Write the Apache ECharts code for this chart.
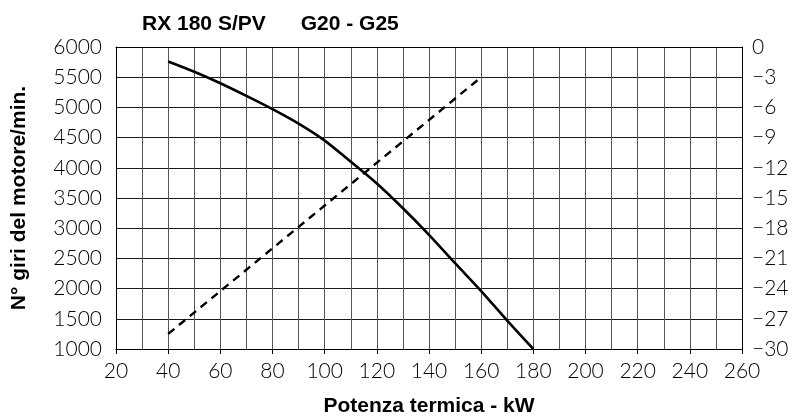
<!DOCTYPE html>
<html>
<head>
<meta charset="utf-8">
<script src="https://cdn.jsdelivr.net/npm/echarts@6/dist/echarts.min.js"></script>
<style>html,body{margin:0;padding:0;background:#fff}#c{width:792px;height:416px}#d{position:absolute;left:125px;top:50px;font:10px monospace;color:red;white-space:pre;visibility:hidden}</style>
</head>
<body>
<div id="c"></div>
<div id="d"></div>
<script>
const titleText = 'RX 180 S/PV      G20 - G25';
const xName = 'Potenza termica - kW';
const yName = 'N° giri del motore/min.';
const rpmX = [40, 50, 60, 70, 80, 90, 100, 110, 120, 130, 140, 150, 160, 170, 180];
const rpmY = [5760, 5590, 5400, 5190, 4970, 4730, 4450, 4100, 3740, 3330, 2890, 2420, 1960, 1470, 1000];
const pressX = [40, 160];
const pressY = [-28.5, -3];
let dbg = '';
try {
const chart = echarts.init(document.getElementById('c'));
const labelFont = {fontFamily: 'Lato', fontWeight: 300, fontSize: 21, color: '#000'};
const boldFont = {fontFamily: 'Liberation Sans', fontWeight: 'bold', color: '#000'};
chart.setOption({
  animation: false,
  title: {text: titleText, left: 137, top: 9,
    textStyle: Object.assign({fontSize: 21}, boldFont)},
  grid: {left: 116, right: 50, top: 47, bottom: 67, outerBoundsMode: 'none'},
  xAxis: [
    {type: 'value', min: 20, max: 260, interval: 10, position: 'top',
     axisLine: {show: true, lineStyle: {color: '#000'}}, axisTick: {show: false}, axisLabel: {show: false},
     splitLine: {show: true, lineStyle: {color: '#555'}}},
    {type: 'value', min: 20, max: 260, interval: 20, position: 'bottom',
     axisLine: {show: true, lineStyle: {color: '#000'}},
     axisTick: {show: true, length: 5},
     axisLabel: Object.assign({margin: 12}, labelFont),
     splitLine: {show: false},
     name: xName, nameLocation: 'middle', nameGap: 47,
     nameTextStyle: Object.assign({fontSize: 21}, boldFont)}
  ],
  yAxis: [
    {type: 'value', min: 1000, max: 6000, interval: 500, position: 'left',
     axisLine: {show: true, lineStyle: {color: '#000'}}, axisTick: {show: false},
     axisLabel: Object.assign({margin: 14, formatter: v => String(v)}, labelFont),
     splitLine: {show: true, lineStyle: {color: '#1a1a1a'}},
     name: yName, nameLocation: 'middle', nameGap: 86,
     nameTextStyle: Object.assign({fontSize: 21}, boldFont)},
    {type: 'value', min: -30, max: 0, interval: 3, position: 'right',
     axisLine: {show: true, lineStyle: {color: '#000'}}, axisTick: {show: false},
     axisLabel: Object.assign({margin: 10, formatter: v => v < 0 ? '\u2212' + Math.abs(v) : String(v)}, labelFont),
     splitLine: {show: false}}
  ],
  series: [
    {type: 'line', xAxisIndex: 1, yAxisIndex: 0, data: rpmX.map((x, i) => [x, rpmY[i]]),
     smooth: 0.3, showSymbol: false, lineStyle: {color: '#000', width: 2.6}},
    {type: 'line', xAxisIndex: 1, yAxisIndex: 1, data: pressX.map((x, i) => [x, pressY[i]]),
     showSymbol: false, lineStyle: {color: '#000', width: 2.4, type: [8, 6]}}
  ]
});
dbg += 'version ' + echarts.version + '\n';
const list = chart.getZr().storage.getDisplayList(true);
list.filter(el => el.type === 'line').slice(0, 22).forEach(el => {
  const s = el.shape, st = el.style;
  dbg += [Math.round(s.x1), Math.round(s.y1), Math.round(s.x2), Math.round(s.y2), st.stroke, st.lineWidth, st.opacity, el.invisible, el.ignore, el.z, el.zlevel].join(' ') + '\n';
});
} catch (e) { dbg += 'ERR ' + e.message; }
document.getElementById('d').textContent = dbg;
</script>
</body>
</html>
